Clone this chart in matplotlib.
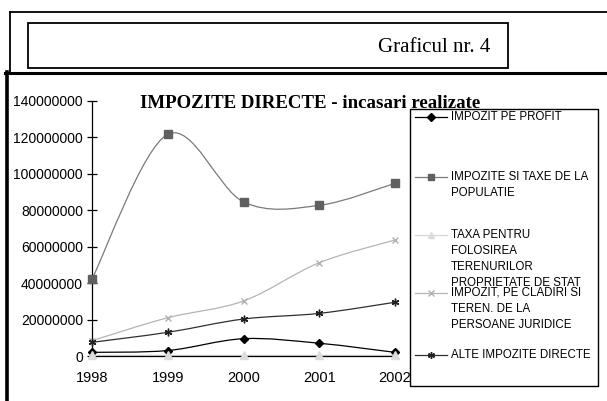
import numpy as np
import matplotlib
matplotlib.use("Agg")
import matplotlib.pyplot as plt
from matplotlib.path import Path
from matplotlib.patches import PathPatch, Rectangle
from matplotlib.lines import Line2D

# data
years = [1998, 1999, 2000, 2001, 2002]
profit = [2.0e6, 3.0e6, 9.5e6, 7.0e6, 2.0e6]
populatie = [42.3e6, 121.7e6, 84.6e6, 82.7e6, 94.8e6]
terenuri_stat = [0.3e6, 0.3e6, 0.3e6, 0.3e6, 0.3e6]
cladiri_pj = [8.4e6, 21.0e6, 30.2e6, 51.2e6, 63.7e6]
alte = [7.5e6, 13.0e6, 20.3e6, 23.4e6, 29.5e6]

labels = [
    "IMPOZIT PE PROFIT",
    "IMPOZITE SI TAXE DE LA\nPOPULATIE",
    "TAXA PENTRU\nFOLOSIREA\nTERENURILOR\nPROPRIETATE DE STAT",
    "IMPOZIT, PE CLADIRI SI\nTEREN. DE LA\nPERSOANE JURIDICE",
    "ALTE IMPOZITE DIRECTE",
]
yticks = [0, 20000000, 40000000, 60000000, 80000000, 100000000, 120000000, 140000000]

series = [profit, populatie, terenuri_stat, cladiri_pj, alte]
line_colors = ["#000000", "#7a7a7a", "#d6d6d6", "#b4b4b4", "#303030"]
mark_colors = ["#000000", "#606060", "#dcdcdc", "#b0b0b0", "#202020"]
markers = ["D", "s", "^", "x", (6, 2, 0)]
msizes = [4, 5.5, 5.5, 5, 5.5]

W, H = 607, 401
fig = plt.figure(figsize=(W / 100, H / 100), dpi=100)
fig.patch.set_facecolor("white")


def fx(x):
    return x / W


def fy(y):
    return 1 - y / H


def smooth_path(xs, ys):
    # Excel-like smoothed line: Catmull-Rom segments as cubic Bezier
    xs = np.asarray(xs, float)
    ys = np.asarray(ys, float)
    px = np.concatenate([[xs[0]], xs, [xs[-1]]])
    py = np.concatenate([[ys[0]], ys, [ys[-1]]])
    verts = [(xs[0], ys[0])]
    codes = [Path.MOVETO]
    for i in range(1, len(xs)):
        c1 = (px[i] + (px[i + 1] - px[i - 1]) / 6, py[i] + (py[i + 1] - py[i - 1]) / 6)
        c2 = (px[i + 1] - (px[i + 2] - px[i]) / 6, py[i + 1] - (py[i + 2] - py[i]) / 6)
        verts += [c1, c2, (px[i + 1], py[i + 1])]
        codes += [Path.CURVE4] * 3
    return Path(verts, codes)


# frames of the scanned page
over = fig.add_axes([0, 0, 1, 1], zorder=0)
over.set_xlim(0, W)
over.set_ylim(H, 0)
over.axis("off")
over.plot([10, W], [12, 12], color="black", lw=1.3)
over.plot([10, 10], [12, 72], color="black", lw=1.3)
over.add_patch(Rectangle((28, 23), 480, 45, fill=False, ec="black", lw=1.3))
over.text(490, 48, "Graficul nr. 4", ha="right", va="center",
          family="Liberation Serif", fontsize=15)
over.plot([5, W], [73, 73], color="black", lw=2.2)
over.plot([6.5, 6.5], [72, H], color="black", lw=2.6)

# plot area
x0, x1, y0, y1 = 92, 395, 356, 101
ax = fig.add_axes([fx(x0), fy(y0), fx(x1 - x0), (y0 - y1) / H], zorder=1)
ax.patch.set_alpha(0)
for i, s in enumerate(series):
    ax.add_patch(PathPatch(smooth_path(years, s), fill=False, ec=line_colors[i],
                           lw=0.9, clip_on=False, zorder=2))
    ax.plot(years, s, ls="none", marker=markers[i], ms=msizes[i],
            color=mark_colors[i], mec=mark_colors[i], clip_on=False, zorder=3)

ax.set_xlim(1998, 2002)
ax.set_ylim(0, 140000000)
ax.set_xticks(years)
ax.set_xticklabels([str(y) for y in years], family="Liberation Sans", fontsize=10.5)
ax.set_yticks(yticks)
ax.set_yticklabels([str(v) for v in yticks], family="Liberation Sans", fontsize=10)
ax.tick_params(axis="y", direction="inout", length=7, width=0.9, pad=3)
ax.tick_params(axis="x", length=0, pad=11)
for side in ["top", "right"]:
    ax.spines[side].set_visible(False)
ax.spines["left"].set_linewidth(0.9)
ax.spines["bottom"].set_linewidth(0.9)
ax.spines["bottom"].set_bounds(1998, 2002)

over.text(310, 107.5, "IMPOZITE DIRECTE - incasari realizate", ha="center",
          va="baseline", family="Liberation Serif", fontweight="bold",
          fontsize=13.6, zorder=2)

# legend drawn as in the scan
leg = fig.add_axes([0, 0, 1, 1], zorder=3)
leg.set_xlim(0, W)
leg.set_ylim(H, 0)
leg.axis("off")
leg.add_patch(Rectangle((410, 108.5), 188, 277.5, fc="white", ec="black", lw=1.0))
entry_y = [117, 177, 235, 293, 355]
for i, lab in enumerate(labels):
    yy = entry_y[i]
    leg.add_line(Line2D([415, 447], [yy, yy], color=line_colors[i], lw=0.9))
    leg.plot([431], [yy], ls="none", marker=markers[i], ms=msizes[i] * 0.9,
             color=mark_colors[i], mec=mark_colors[i])
    leg.text(451, yy - 6.5, lab, ha="left", va="top", family="Liberation Sans",
             fontsize=8.3, linespacing=1.45)

fig.savefig("out.png", dpi=100)
